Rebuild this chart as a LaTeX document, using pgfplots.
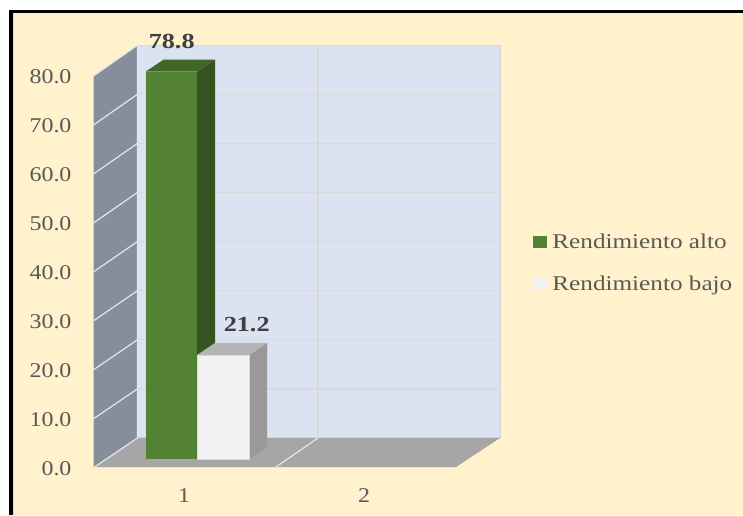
\documentclass[border=0pt]{standalone}
\usepackage{fontspec}
\setmainfont{Liberation Serif}[FakeStretch=1.14]
\newfontfamily\labelfont{Liberation Serif}[FakeStretch=1.22]
\newfontfamily\legendfont{Liberation Serif}[FakeStretch=1.2]
\usepackage{pgfplots}
\pgfplotsset{compat=1.18}
\definecolor{bgc}{HTML}{FFF2CC}
\definecolor{wallc}{HTML}{868E9C}
\definecolor{floorc}{HTML}{A6A6A6}
\definecolor{backc}{HTML}{DBE2F1}
\definecolor{gridc}{HTML}{D9D9D9}
\definecolor{wgrid}{HTML}{E4E6EA}
\definecolor{greenf}{HTML}{548235}
\definecolor{greens}{HTML}{375420}
\definecolor{greent}{HTML}{416628}
\definecolor{whitef}{HTML}{F2F2F2}
\definecolor{whites}{HTML}{999999}
\definecolor{whitet}{HTML}{B5B5B5}
\definecolor{txt}{HTML}{595959}
\definecolor{lab}{HTML}{404040}
\pgfplotsset{common/.style={
  at={(0,0)},anchor=south west,scale only axis,width=743pt,height=515pt,
  xmin=0,xmax=743,clip=false,axis line style={draw=none},major tick length=0pt,
}}
\begin{document}
\begin{tikzpicture}[x=1pt,y=1pt]
\useasboundingbox (0,0) rectangle (743,515);
\fill[white] (0,0) rectangle (743,515);
\fill[black] (9,0) rectangle (743,505);
\fill[gridc] (12.5,0) rectangle (743,501.5);
\fill[bgc] (14,0) rectangle (743,501.5);
\begin{axis}[common,
  ymin=-9.66,ymax=95.53,
  ytick={0,10,...,80},
  xtick={184,364},xticklabels={1,2},
  /pgf/number format/assume math mode=true,
  yticklabel style={/pgf/number format/fixed,/pgf/number format/fixed zerofill,/pgf/number format/precision=1,
    font=\fontsize{21}{24}\selectfont,text=txt,anchor=east,xshift=75pt,yshift=-1pt},
  xticklabel style={font=\fontsize{21}{24}\selectfont,text=txt,anchor=center,yshift=19pt},
]
% back wall, side wall, floor
\addplot[fill=backc,draw=gridc,line width=1.2pt] coordinates {(137.5,6.07)(500,6.07)(500,86.3)(137.5,86.3)} -- cycle;
\addplot[fill=wallc,draw=none] coordinates {(93.5,0)(137.5,6.07)(137.5,86.3)(93.5,80)} -- cycle;
\addplot[fill=floorc,draw=none] coordinates {(93.5,0)(455,0)(500,6.07)(137.5,6.07)} -- cycle;
% back grid
\addplot[gridc,line width=1.3pt] coordinates {(137.5,16.1)(500,16.1)};
\addplot[gridc,line width=1.3pt] coordinates {(137.5,26.13)(500,26.13)};
\addplot[gridc,line width=1.3pt] coordinates {(137.5,36.16)(500,36.16)};
\addplot[gridc,line width=1.3pt] coordinates {(137.5,46.19)(500,46.19)};
\addplot[gridc,line width=1.3pt] coordinates {(137.5,56.22)(500,56.22)};
\addplot[gridc,line width=1.3pt] coordinates {(137.5,66.25)(500,66.25)};
\addplot[gridc,line width=1.3pt] coordinates {(137.5,76.28)(500,76.28)};
\addplot[gridc,line width=1.3pt] coordinates {(318,6.07)(318,86.3)};
% wall grid
\addplot[wgrid,line width=1.2pt] coordinates {(93.5,0)(137.5,6.07)(137.5,86.3)(93.5,80)};
\addplot[wgrid,line width=1.2pt] coordinates {(93.5,10)(137.5,16.1)};
\addplot[wgrid,line width=1.2pt] coordinates {(93.5,20)(137.5,26.13)};
\addplot[wgrid,line width=1.2pt] coordinates {(93.5,30)(137.5,36.16)};
\addplot[wgrid,line width=1.2pt] coordinates {(93.5,40)(137.5,46.19)};
\addplot[wgrid,line width=1.2pt] coordinates {(93.5,50)(137.5,56.22)};
\addplot[wgrid,line width=1.2pt] coordinates {(93.5,60)(137.5,66.25)};
\addplot[wgrid,line width=1.2pt] coordinates {(93.5,70)(137.5,76.28)};
\addplot[wgrid,line width=1.2pt] coordinates {(93.5,0)(455,0)};
\addplot[wgrid,line width=1.2pt] coordinates {(275,0)(318,6.07)};
\end{axis}
\begin{axis}[common,
  ymin=-11.32,ymax=93.35,
  xtick=\empty,ytick=\empty,
  legend style={at={(axis cs:533,46.3)},anchor=north west,draw=none,fill=none,inner sep=0pt,outer sep=0pt,
    font=\legendfont\fontsize{21}{24}\selectfont,text=txt,row sep=22.5pt,cells={anchor=west},
    /tikz/every even column/.append style={column sep=0pt}},
  legend cell align=left,
  /pgf/number format/assume math mode=true,
]
% Rendimiento alto, value 78.8
\addplot[fill=greens,draw=none,forget plot] coordinates {(197,0)(215,2.44)(215,81.24)(197,78.8)} -- cycle;
\addplot[fill=greent,draw=none,forget plot] coordinates {(145.7,78.8)(197,78.8)(215,81.24)(163.7,81.24)} -- cycle;
\addplot[fill=greenf,draw=none,forget plot] coordinates {(145.7,0)(197,0)(197,78.8)(145.7,78.8)} -- cycle;
% Rendimiento bajo, value 21.2
\addplot[fill=whites,draw=none,forget plot] coordinates {(249,0)(267,2.44)(267,23.64)(249,21.2)} -- cycle;
\addplot[fill=whitet,draw=none,forget plot] coordinates {(197,21.2)(249,21.2)(267,23.64)(215,23.64)} -- cycle;
\addplot[fill=whitef,draw=gridc,line width=.5pt,forget plot] coordinates {(197,0)(249,0)(249,21.2)(197,21.2)} -- cycle;
% data labels
\addplot[draw=none,forget plot,nodes near coords,point meta=y,
  nodes near coords style={/pgf/number format/fixed,/pgf/number format/fixed zerofill,/pgf/number format/precision=1,
    font=\labelfont\bfseries\fontsize{21.5}{24}\selectfont,text=lab,anchor=center,yshift=30pt}]
  coordinates {(171.7,78.8)};
\addplot[draw=none,forget plot,nodes near coords,point meta=y,
  nodes near coords style={/pgf/number format/fixed,/pgf/number format/fixed zerofill,/pgf/number format/precision=1,
    font=\labelfont\bfseries\fontsize{21.5}{24}\selectfont,text=lab,anchor=center,yshift=30pt}]
  coordinates {(246.7,21.2)};
% legend
\addlegendimage{legend image code/.code={\fill[greenf] (0,-5.5pt) rectangle (12.5pt,5.5pt);\path (17pt,0);}}
\addlegendentry{Rendimiento alto}
\addlegendimage{legend image code/.code={\fill[whitef] (0,-5.5pt) rectangle (12.5pt,5.5pt);\path (17pt,0);}}
\addlegendentry{Rendimiento bajo}
\end{axis}
\end{tikzpicture}
\end{document}
